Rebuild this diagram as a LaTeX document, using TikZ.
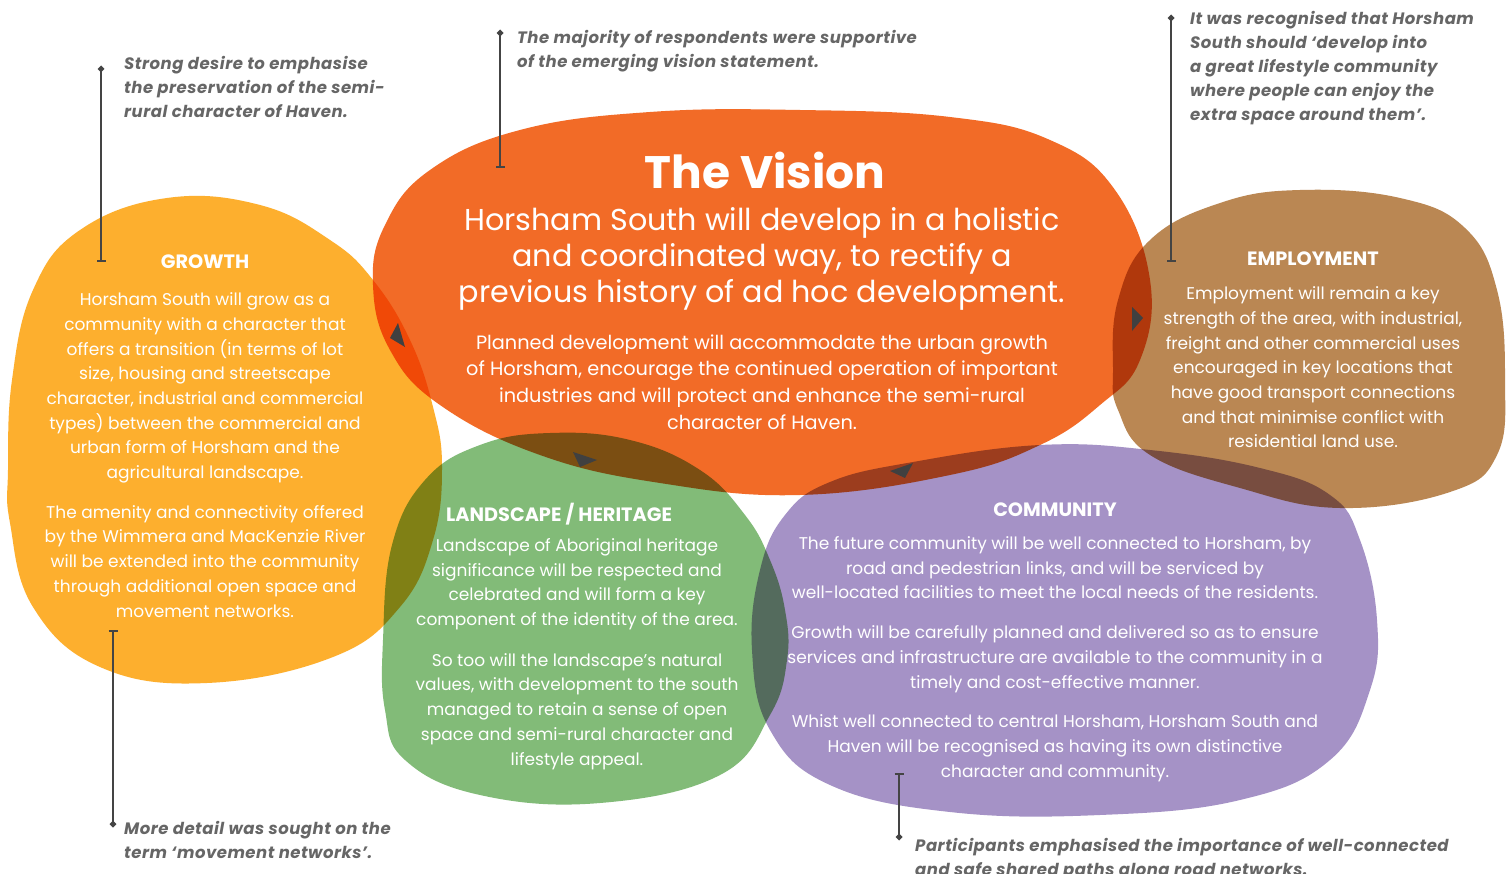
\documentclass[tikz,border=0pt]{standalone}
\usepackage{fontspec}
\setmainfont{Poppins}
\usetikzlibrary{arrows.meta}
\definecolor{cvision}{HTML}{F26B27}
\definecolor{cgrowth}{HTML}{FDAF2E}
\definecolor{cgreen}{HTML}{82BB78}
\definecolor{cpurple}{HTML}{A592C6}
\definecolor{cbrown}{HTML}{BA8753}
\definecolor{notegray}{HTML}{666666}
\definecolor{linegray}{HTML}{444444}
\definecolor{trigray}{HTML}{404040}
\tikzset{
  body/.style={text=white, align=center, font=\fontsize{17}{24.7}\selectfont, inner sep=0pt},
  head/.style={text=white, font=\bfseries\fontsize{19.3}{22}\selectfont, inner sep=0pt},
  note/.style={text=notegray, align=left, font=\bfseries\itshape\fontsize{16.5}{24}\selectfont\addfontfeature{LetterSpace=3}, inner sep=0pt, anchor=west},
  callout/.style={draw=linegray, line width=2.4pt, {Circle[length=6pt]}-{Bar[width=9pt,line width=1.6pt]}},
  tri/.style={fill=trigray},
  blob/.style={blend mode=multiply}
}
\begin{document}
\begin{tikzpicture}[x=1pt,y=-1pt]
\useasboundingbox (0,0) rectangle (1511,874);
\fill[white] (0,0) rectangle (1511,874);
\begin{scope}[blob]
% Vision
\fill[cvision] plot[smooth cycle, tension=0.7] coordinates {
 (373,285) (385,225) (430,170) (520,130) (650,112) (800,110) (950,117) (1050,140)
 (1115,190) (1150,280) (1140,360) (1100,405) (1040,445) (950,475) (800,495)
 (660,483) (540,455) (440,405) (390,350)};
% Growth
\fill[cgrowth] plot[smooth cycle, tension=0.7] coordinates {
 (8,470) (12,380) (33,290) (80,230) (167,198) (260,205) (330,240) (373,280)
 (410,340) (433,407) (442,467) (433,540) (400,607) (333,657) (207,683)
 (100,667) (33,607) (10,523)};
% Landscape
\fill[cgreen] plot[smooth cycle, tension=0.7] coordinates {
 (383,640) (392,545) (425,480) (480,445) (550,433) (630,440) (700,470) (745,515)
 (770,560) (785,610) (787,660) (770,715) (720,775) (600,803) (480,795)
 (405,760) (385,710)};
% Community
\fill[cpurple] plot[smooth cycle, tension=0.7] coordinates {
 (752,650) (760,570) (785,515) (830,482) (913,462) (1040,445) (1150,450)
 (1260,468) (1330,495) (1360,540) (1377,620) (1370,690) (1330,760) (1240,800)
 (1100,815) (950,812) (830,785) (770,730)};
% Employment
\fill[cbrown] plot[smooth cycle, tension=0.7] coordinates {
 (1113,370) (1118,300) (1150,240) (1220,203) (1300,190) (1400,198) (1465,228)
 (1497,290) (1505,380) (1497,455) (1450,492) (1340,508) (1240,488) (1150,455)
 (1118,410)};
\end{scope}
% triangles
\fill[tri] (398,323) -- (390,338) -- (405,347) -- cycle;
\fill[tri] (573,452) -- (597,460) -- (580,467) -- cycle;
\fill[tri] (1132,307) -- (1143,318) -- (1132,331) -- cycle;
\fill[tri] (913,463) -- (890,471) -- (905,478) -- cycle;
% Vision text
\node[text=white, font=\bfseries\fontsize{45.5}{50}\selectfont, inner sep=0pt] (vt) at (765,170) {The Vision};
\node[text=white, align=center, font=\fontsize{30.2}{36}\selectfont, inner sep=0pt] (vs) at (762,259)
 {Horsham South will develop in a holistic\\and coordinated way, to rectify a\\previous history of ad hoc development.};
\node[text=white, align=center, font=\fontsize{19.3}{26.7}\selectfont, inner sep=0pt] (vb) at (762,382)
 {Planned development will accommodate the urban growth\\of Horsham, encourage the continued operation of important\\industries and will protect and enhance the semi-rural\\character of Haven.};
% Growth
\node[head] (gt) at (205,262) {GROWTH};
\node[body] (gb) at (205,455) {Horsham South will grow as a\\community with a character that\\offers a transition (in terms of lot\\size, housing and streetscape\\character, industrial and commercial\\types) between the commercial and\\urban form of Horsham and the\\agricultural landscape.\\[15pt]The amenity and connectivity offered\\by the Wimmera and MacKenzie River\\will be extended into the community\\through additional open space and\\movement networks.};
% Landscape
\node[head, anchor=west] (lt) at (446,514) {LANDSCAPE / HERITAGE};
\node[body] (lb) at (577,654) {Landscape of Aboriginal heritage\\significance will be respected and\\celebrated and will form a key\\component of the identity of the area.\\[16pt]So too will the landscape’s natural\\values, with development to the south\\managed to retain a sense of open\\space and semi-rural character and\\lifestyle appeal.};
% Community
\node[head] (ct) at (1055,510) {COMMUNITY};
\node[body] (cb) at (1055,659) {The future community will be well connected to Horsham, by\\road and pedestrian links, and will be serviced by\\well-located facilities to meet the local needs of the residents.\\[15pt]Growth will be carefully planned and delivered so as to ensure\\services and infrastructure are available to the community in a\\timely and cost-effective manner.\\[15pt]Whist well connected to central Horsham, Horsham South and\\Haven will be recognised as having its own distinctive\\character and community.};
% Employment
\node[head] (et) at (1313,259) {EMPLOYMENT};
\node[body] (eb) at (1313,367.5) {Employment will remain a key\\strength of the area, with industrial,\\freight and other commercial uses\\encouraged in key locations that\\have good transport connections\\and that minimise conflict with\\residential land use.};
% Notes
\node[note] (n1) at (124,87) {Strong desire to emphasise\\the preservation of the semi-\\rural character of Haven.};
\node[note] (n2) at (517,51) {The majority of respondents were supportive\\of the emerging vision statement.};
\node[note] (n3) at (1190,68) {It was recognised that Horsham\\South should ‘develop into\\a great lifestyle community\\where people can enjoy the\\extra space around them’.};
\node[note] (n4) at (124,840) {More detail was sought on the\\term ‘movement networks’.};
\node[note] (n5) at (915,859) {Participants emphasised the importance of well-connected\\and safe shared paths along road networks.};
% Callout lines
\coordinate (c1a) at (101,66); \coordinate (c1b) at (101,262);
\coordinate (c2a) at (500,30); \coordinate (c2b) at (500,168);
\coordinate (c3a) at (1171,15); \coordinate (c3b) at (1171,262);
\coordinate (c4a) at (113,827); \coordinate (c4b) at (113,630);
\coordinate (c5a) at (899,840); \coordinate (c5b) at (899,773);
\draw[callout] (c1a) -- (c1b);
\draw[callout] (c2a) -- (c2b);
\draw[callout] (c3a) -- (c3b);
\draw[callout] (c4a) -- (c4b);
\draw[callout] (c5a) -- (c5b);
\end{tikzpicture}
\end{document}
